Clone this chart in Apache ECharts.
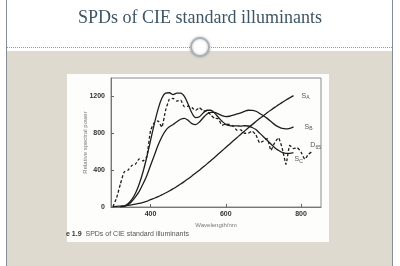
<!DOCTYPE html>
<html>
<head>
<meta charset="utf-8">
<script src="https://cdn.jsdelivr.net/npm/echarts@6/dist/echarts.min.js"></script>
<style>
html,body{margin:0;padding:0;background:#ffffff;}
#chart{width:400px;height:266px;}
</style>
</head>
<body>
<div id="chart"></div>
<script>
// Wavelengths (nm)
var wavelengths = [300,310,320,330,340,350,360,370,380,390,400,410,420,430,440,450,460,470,480,490,500,510,520,530,540,550,560,570,580,590,600,610,620,630,640,650,660,670,680,690,700,710,720,730,740,750,760,770,780,790,800,810,820,830];
// Relative spectral power
var sA = [5,7,10,13,18,24,31,39,49,60,80,95,112,132,152,174,198,223,249,277,306,336,368,400,434,468,503,538,574,610,646,682,718,754,790,825,860,894,927,960,991,1022,1052,1081,1108,1135,1161,1185,1208,null,null,null,null,null];
var sB = [null,null,3,8,25,60,110,170,250,340,450,560,670,760,830,870,895,925,952,962,940,905,895,922,969,1010,1028,1026,1010,992,980,985,997,1010,1022,1039,1050,1049,1039,1016,991,962,929,894,869,852,847,854,870,null,null,null,null,null];
var sC = [null,null,5,10,35,80,150,250,380,540,720,900,1060,1180,1235,1240,1220,1235,1235,1200,1115,1020,970,980,1020,1050,1050,1020,975,930,897,884,881,880,878,882,879,863,840,802,763,724,683,644,615,592,581,582,591,null,null,null,null,null];
var d65 = [3,100,250,380,399,449,466,521,500,546,828,915,934,867,1049,1170,1178,1149,1159,1088,1094,1078,1048,1077,1044,1040,1000,963,958,887,900,896,877,833,837,800,802,823,783,697,716,743,616,699,751,636,464,668,634,643,595,520,574,603];
// Axis tick values
var xTicks = [400,600,800];
var yTicks = [0,400,800,1200];

function pairs(vals){
  var out = [];
  for (var i = 0; i < wavelengths.length; i++) {
    if (vals[i] !== null) out.push([wavelengths[i], vals[i]]);
  }
  return out;
}

var chart = echarts.init(document.getElementById('chart'), null, {renderer:'canvas'});
var lineCol = '#1e1e1e';
var labRich = {
  s:{fontSize:7,color:'#555',fontFamily:'Liberation Sans'},
  sub:{fontSize:5,color:'#555',fontFamily:'Liberation Sans',padding:[4,0,0,0]}
};
function mkSeries(name, vals, sub, dashed, offset){
  return {
    name:name, type:'line', data:pairs(vals), symbol:'none', smooth:dashed?0.15:0.35,
    lineStyle:{color:lineCol,width:1.3,type:dashed?[3,2]:'solid'},
    endLabel:{show:true, offset:offset, formatter:'{s|'+name.charAt(0)+'}{sub|'+sub+'}', rich:labRich},
    silent:true, z:3
  };
}
function plain(v){ return String(v); }

var option = {
  animation:false,
  backgroundColor:'#ffffff',
  title:{
    text:'SPDs of CIE standard illuminants', left:'center', top:4,
    textStyle:{fontFamily:'Liberation Serif',fontSize:18,fontWeight:'normal',color:'#3e5565'}
  },
  graphic:[
    {type:'rect', z:-10, zlevel:0, shape:{x:7,y:51,width:385,height:215}, style:{fill:'#dfdad0'}},
    {type:'line', z:-9, shape:{x1:6.5,y1:0,x2:6.5,y2:266}, style:{stroke:'#858c92',lineWidth:1}},
    {type:'line', z:-9, shape:{x1:392.5,y1:0,x2:392.5,y2:266}, style:{stroke:'#858c92',lineWidth:1}},
    {type:'line', z:-9, shape:{x1:7,y1:47.5,x2:392,y2:47.5}, style:{stroke:'#9a9a9a',lineWidth:1,lineDash:[1,1]}},
    {type:'circle', z:-8, shape:{cx:200,cy:47,r:9}, style:{fill:'#ffffff',stroke:'#a9b2ba',lineWidth:2,shadowBlur:3,shadowColor:'rgba(0,0,0,0.25)'}},
    {type:'rect', z:-7, shape:{x:67,y:74,width:262,height:168}, style:{fill:'#fdfdfc'}},
    {type:'text', z:5, x:66, y:234, style:{
      text:'{b|e 1.9}{n|  SPDs of CIE standard illuminants}', verticalAlign:'middle',
      rich:{b:{fontSize:7,fontWeight:'bold',fill:'#333',fontFamily:'Liberation Sans'},
            n:{fontSize:7,fill:'#555',fontFamily:'Liberation Sans'}}
    }}
  ],
  grid:{left:111,right:79,top:78,bottom:59,show:true,borderColor:'#8a8a8a',borderWidth:1,backgroundColor:'transparent'},
  xAxis:{
    type:'value', min:295, max:853,
    name:'Wavelength/nm', nameLocation:'middle', nameGap:15, nameMoveOverlap:false,
    nameTextStyle:{fontSize:6,color:'#777',fontFamily:'Liberation Sans'},
    axisLine:{show:true,lineStyle:{color:'#777',width:1}},
    axisTick:{show:true,inside:true,length:3,customValues:xTicks,lineStyle:{color:'#666'}},
    axisLabel:{customValues:xTicks,formatter:plain,fontSize:7,fontWeight:'bold',color:'#333',margin:4,fontFamily:'Liberation Sans'},
    splitLine:{show:false}
  },
  yAxis:{
    type:'value', min:0, max:1400,
    name:'Relative spectral power', nameLocation:'middle', nameGap:23, nameMoveOverlap:false,
    nameTextStyle:{fontSize:6,color:'#777',fontFamily:'Liberation Sans'},
    axisLine:{show:true,lineStyle:{color:'#777',width:1}},
    axisTick:{show:true,inside:true,length:3,customValues:yTicks,lineStyle:{color:'#666'}},
    axisLabel:{customValues:yTicks,formatter:plain,fontSize:7,fontWeight:'bold',color:'#333',margin:6,fontFamily:'Liberation Sans'},
    splitLine:{show:false}
  },
  series:[
    mkSeries('SA', sA, 'A', false, [0,0]),
    mkSeries('SB', sB, 'B', false, [3,0]),
    mkSeries('SC', sC, 'C', false, [-7,7]),
    mkSeries('D65', d65, '65', true, [-10,-6])
  ]
};
chart.setOption(option);
</script>
</body>
</html>
